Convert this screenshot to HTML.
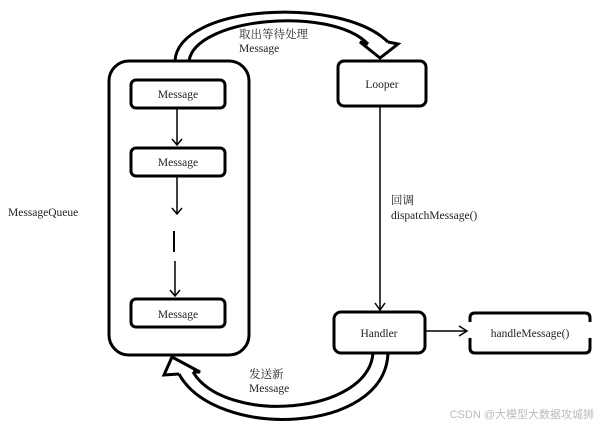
<!DOCTYPE html>
<html><head><meta charset="utf-8"><style>
html,body{margin:0;padding:0;background:#fff;}
svg{display:block}
.s{font-family:"Liberation Serif","DejaVu Serif","Noto Serif CJK SC",serif;}
</style></head><body>
<svg width="600" height="427" viewBox="0 0 600 427" xmlns="http://www.w3.org/2000/svg">
<rect width="600" height="427" fill="#fff"/>
<g fill="none" stroke="#000" stroke-width="3">
<rect x="109" y="61" width="140" height="294" rx="20"/>
<rect x="131" y="80" width="94" height="28" rx="5"/>
<rect x="131" y="148" width="94" height="28" rx="5"/>
<rect x="131" y="299" width="94" height="28" rx="5"/>
<rect x="338" y="61" width="88" height="45" rx="6"/>
<rect x="334" y="312" width="91" height="41" rx="7"/>
<path d="M470 322 V318 Q470 313 475 313 H585 Q590 313 590 318 V322"/>
<path d="M470 338 V348 Q470 353 475 353 H585 Q590 353 590 348 V338"/>
<path d="M175 61 C178 5 340 -5 388 42"/>
<path d="M189 61 C195 18 330 5 368 44"/>
<path d="M368 44 L360 42 L380 58 L398 44 L388 42"/>
<path d="M388 353 C385 435 215 440 179 374"/>
<path d="M373 353 C368 415 225 425 193 372"/>
<path d="M179 374 L164 375 L172 357 L200 372 L193 372"/>
</g>
<g stroke="#000" stroke-width="1.5" fill="none">
<line x1="177" y1="108" x2="177" y2="145"/>
<path d="M172 139 L177 145 L182 139"/>
<line x1="177" y1="176" x2="177" y2="214"/>
<path d="M172 208 L177 214 L182 208"/>
<line x1="174" y1="231" x2="174" y2="252" stroke-width="2"/>
<line x1="175" y1="261" x2="175" y2="296"/>
<path d="M170 290 L175 296 L180 290"/>
<line x1="380" y1="106" x2="380" y2="310"/>
<path d="M375 303 L380 310 L385 303"/>
<line x1="425" y1="331" x2="467" y2="331"/>
<path d="M459 326 L467 331 L459 336"/>
</g>
<g class="s" font-size="11.5" fill="#222">
<text class="s" x="178" y="98" text-anchor="middle">Message</text>
<text class="s" x="178" y="166" text-anchor="middle">Message</text>
<text class="s" x="178" y="318" text-anchor="middle">Message</text>
<text class="s" x="382" y="88" text-anchor="middle">Looper</text>
<text class="s" x="379" y="337" text-anchor="middle">Handler</text>
<text class="s" x="530" y="337" text-anchor="middle">handleMessage()</text>
<text class="s" x="8" y="216">MessageQueue</text>
<text class="s" x="239" y="38">取出等待处理</text>
<text class="s" x="239" y="52">Message</text>
<text class="s" x="391" y="204">回调</text>
<text class="s" x="391" y="219">dispatchMessage()</text>
<text class="s" x="249" y="378">发送新</text>
<text class="s" x="249" y="392">Message</text>
</g>
<text x="594" y="418" text-anchor="end" font-size="11" fill="#bbb" font-family="Liberation Sans, Noto Sans CJK SC, sans-serif">CSDN @大模型大数据攻城狮</text>
</svg>
</body></html>
